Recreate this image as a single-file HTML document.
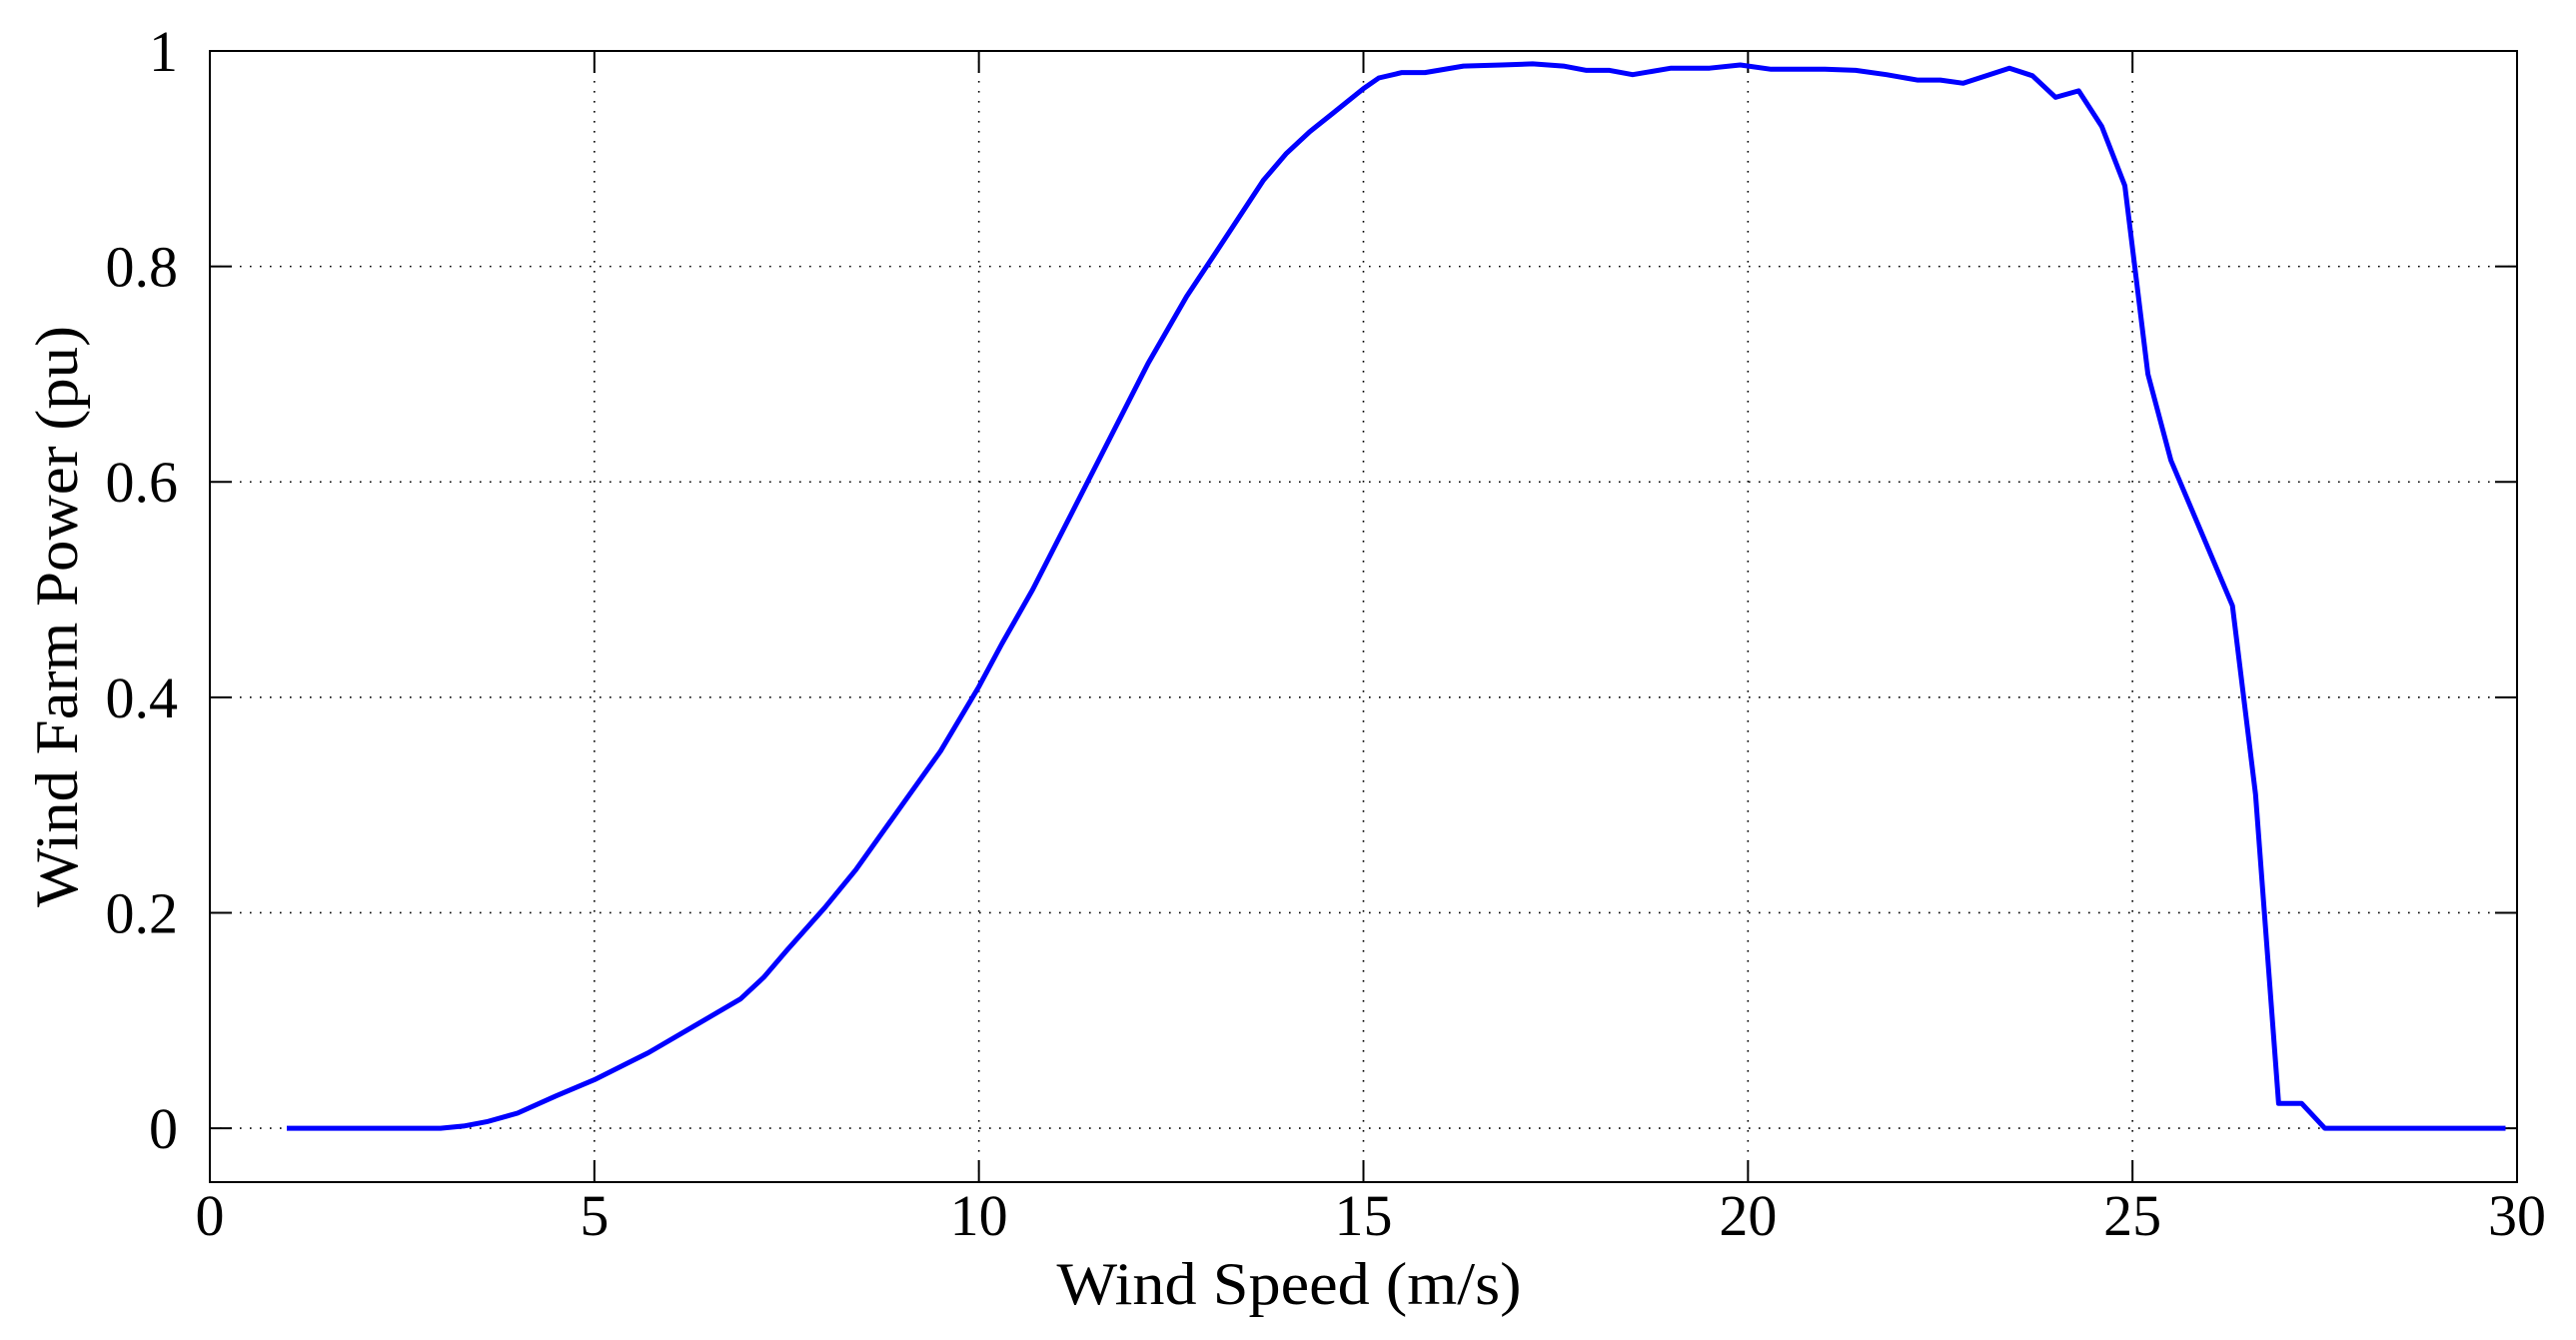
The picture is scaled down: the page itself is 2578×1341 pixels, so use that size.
<!DOCTYPE html>
<html><head><meta charset="utf-8"><style>
html,body{margin:0;padding:0;background:#fff;}
svg{display:block;}
text{font-family:"Liberation Serif",serif;fill:#000;}
</style></head><body>
<svg id="chart" width="2578" height="1341" viewBox="0 0 2578 1341" xmlns="http://www.w3.org/2000/svg">
<g id="grid"></g>
<g id="axes"></g>
<g id="series"></g>
<text x="1290" y="1305" font-size="60" text-anchor="middle" textLength="465" lengthAdjust="spacingAndGlyphs">Wind Speed (m/s)</text>
<text transform="translate(77,617) rotate(-90)" x="0" y="0" font-size="60" text-anchor="middle" textLength="582" lengthAdjust="spacingAndGlyphs">Wind Farm Power (pu)</text>
</svg>
<script>
const windSpeed = [1,3,3.3,3.6,4,4.5,5,5.7,6.3,6.9,7.2,7.5,8,8.4,9,9.5,10,10.3,10.7,11.2,11.7,12.2,12.7,13.1,13.7,14,14.3,14.6,15,15.2,15.5,15.8,16.3,16.8,17.2,17.6,17.9,18.2,18.5,19,19.5,19.9,20.3,21,21.4,21.8,22.2,22.5,22.8,23.1,23.4,23.7,24,24.3,24.6,24.9,25.2,25.5,26.3,26.6,26.9,27.2,27.5,29.85];
const power = [0,0,0.002,0.006,0.014,0.03,0.045,0.07,0.095,0.12,0.14,0.165,0.205,0.24,0.3,0.35,0.41,0.45,0.5,0.57,0.64,0.71,0.772,0.815,0.88,0.905,0.925,0.942,0.965,0.975,0.98,0.98,0.986,0.987,0.988,0.986,0.982,0.982,0.978,0.984,0.984,0.987,0.983,0.983,0.982,0.978,0.973,0.973,0.97,0.977,0.984,0.977,0.957,0.963,0.93,0.875,0.7,0.62,0.485,0.31,0.023,0.023,0,0];
const xTicks = [0,5,10,15,20,25,30];
const xTickLabels = ["0","5","10","15","20","25","30"];
const yTicks = [0,0.2,0.4,0.6,0.8,1];
const yTickLabels = ["0","0.2","0.4","0.6","0.8","1"];

const NS="http://www.w3.org/2000/svg";
const L=210,R=2519,T=51,B=1183, xMin=0,xMax=30,yMin=-0.05,yMax=1;
const sx=v=>L+(v-xMin)/(xMax-xMin)*(R-L);
const sy=v=>B-(v-yMin)/(yMax-yMin)*(B-T);
function mk(tag,attrs,parent){const e=document.createElementNS(NS,tag);for(const k in attrs)e.setAttribute(k,attrs[k]);parent.appendChild(e);return e;}
const grid=document.getElementById('grid'),axes=document.getElementById('axes'),series=document.getElementById('series');
xTicks.forEach((v,i)=>{
  const x=sx(v);
  if(v>xMin&&v<xMax){const g=mk('line',{x1:x,x2:x,y1:T,y2:B,stroke:'#000','stroke-width':1.6,'stroke-dasharray':'1.6 8.4'},grid);
  
  }
  const t1=mk('line',{x1:x,x2:x,y1:B,y2:B-22,stroke:'#000','stroke-width':2},axes);
  
  
  const t2=mk('line',{x1:x,x2:x,y1:T,y2:T+22,stroke:'#000','stroke-width':2},axes);
  
  
  const tx=mk('text',{x:x,y:1236,'font-size':58,'text-anchor':'middle'},axes);
  tx.textContent=xTickLabels[i];
  
  
});
yTicks.forEach((v,i)=>{
  const y=sy(v);
  if(v<yMax){const g=mk('line',{x1:L,x2:R,y1:y,y2:y,stroke:'#000','stroke-width':1.6,'stroke-dasharray':'1.6 8.4'},grid);
  
  }
  const t1=mk('line',{x1:L,x2:L+22,y1:y,y2:y,stroke:'#000','stroke-width':2},axes);
  
  
  const t2=mk('line',{x1:R,x2:R-22,y1:y,y2:y,stroke:'#000','stroke-width':2},axes);
  
  
  const tx=mk('text',{x:178,y:y+20,'font-size':58,'text-anchor':'end'},axes);
  tx.textContent=yTickLabels[i];
  
  
});
const frame=mk('rect',{x:L,y:T,width:R-L,height:B-T,fill:'none',stroke:'#000','stroke-width':2},axes);


const d=windSpeed.map((v,i)=>(i?'L':'M')+sx(v).toFixed(1)+','+sy(power[i]).toFixed(1)).join(' ');
const line=mk('path',{d:d,fill:'none',stroke:'#0000ff','stroke-width':5,'stroke-linejoin':'round'},series);


</script>
</body></html>
